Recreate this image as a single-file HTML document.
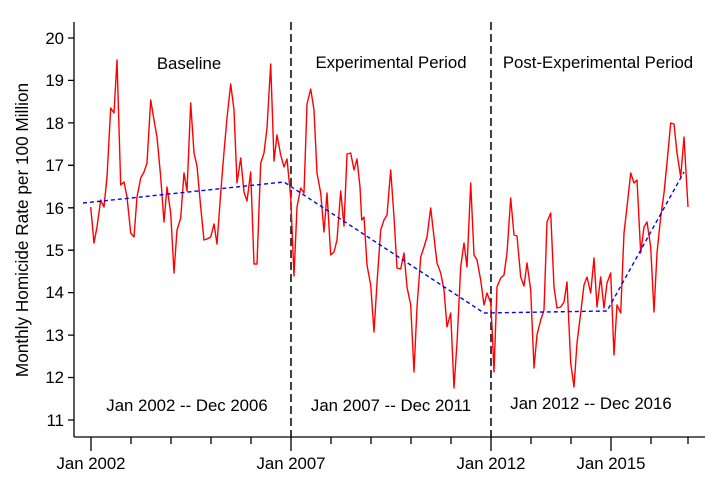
<!DOCTYPE html>
<html><head><meta charset="utf-8"><style>html,body{margin:0;padding:0;background:#fff}svg{display:block}</style></head>
<body>
<svg width="720" height="486" viewBox="0 0 720 486" xmlns="http://www.w3.org/2000/svg" font-family="Liberation Sans, sans-serif">
<rect width="720" height="486" fill="#fff"/>
<g stroke="#000" stroke-width="1.3" fill="none">
<line x1="74" y1="22" x2="74" y2="437"/>
<line x1="74" y1="437" x2="705" y2="437"/>
<path d="M68 38H74M68 80.4H74M68 122.9H74M68 165.3H74M68 207.8H74M68 250.2H74M68 292.6H74M68 335.1H74M68 377.5H74M68 420H74"/>
<path d="M91 437V451M291 437V451M491 437V451M611 437V451M131 437V444M171 437V444M211 437V444M251 437V444M331 437V444M371 437V444M411 437V444M451 437V444M531 437V444M571 437V444M651 437V444M688 437V444"/>
<line x1="291" y1="22" x2="291" y2="437" stroke-dasharray="8,4" stroke-width="1.5"/>
<line x1="491" y1="22" x2="491" y2="437" stroke-dasharray="8,4" stroke-width="1.5"/>
</g>
<g font-size="16.8" fill="#000" text-anchor="end">
<text x="64" y="44">20</text><text x="64" y="86">19</text><text x="64" y="129">18</text><text x="64" y="171">17</text><text x="64" y="214">16</text><text x="64" y="256">15</text><text x="64" y="298">14</text><text x="64" y="341">13</text><text x="64" y="383">12</text><text x="64" y="426">11</text>
</g>
<g font-size="16.8" fill="#000" text-anchor="middle">
<text x="91" y="469">Jan 2002</text><text x="291" y="469">Jan 2007</text><text x="491" y="469">Jan 2012</text><text x="611" y="469">Jan 2015</text>
<text x="189" y="69">Baseline</text>
<text x="391" y="68">Experimental Period</text>
<text x="598" y="68">Post-Experimental Period</text>
<text x="187" y="411">Jan 2002 -- Dec 2006</text>
<text x="391" y="411">Jan 2007 -- Dec 2011</text>
<text x="591" y="409">Jan 2012 -- Dec 2016</text>
<text transform="translate(28,230) rotate(-90)" font-size="17.2">Monthly Homicide Rate per 100 Million</text>
</g>
<polyline fill="none" stroke="#ff0000" stroke-width="1.4" stroke-linejoin="round" points="90.7,207 94,243 97,227 100.7,200 104,207 107,177 110.7,108 114,113 117,60 120.7,185 124,182 127,197 130.7,233 134,237 137,197 140.7,178 144,172 147,163 150.7,100 154,120 157,137 160.7,177 164,222 167,187 170.7,213 174,273 177,230 180.7,218 184,173 187,191 190.7,103 194,153 197,166 200.7,207 204,240 207,239 210.7,237 214,224 217,244 220.7,193 224,152 227,118 230.7,84 234,110 237,183 240.7,158 244,192 247,201 250.7,172 254,264 257,264 260.7,163 264,153 267,128 270.7,64 274,161 277,135 280.7,155 284,167 287,159 290.7,197 294,276 297,207 300.7,188 304,193 307,104 310.7,89 314,110 317,173 320.7,193 324,232 327,193 330.7,255 334,252 337,240 340.7,191 344,226 347,154 350.7,153 354,170 357,159 360,187 361.7,220 364,217 367,265 370.7,285 374,332 377,283 380.7,230 384,220 387,215 390.7,170 394,217 397,268 400.7,269 404,253 407,287 410.7,305 414,372 417,307 420.7,257 424,247 427,237 430.7,208 434,237 437,263 440.7,273 444,290 447,327 450.7,313 454,388 457,343 460.7,267 464,243 467,267 470.7,183 474,255 477,260 480.7,280 484,305 487,293 490.7,303 492.3,333 494,372 497,287 500.7,278 504,275 507,253 510.7,198 514,235 517,236 520.7,277 524,286 527,263 530.7,290 534,368 537,335 540.7,320 544,310 547,222 550.7,213 554,287 557,308 560.7,307 564,302 567,282 570.7,363 574,387 577,343 580.7,313 584,285 587,277 590.7,293 594,258 597,307 600.7,277 604,308 607,283 610.7,273 614,355 617,305 620.7,313 624,233 627,207 630.7,173 634,183 637,180 640.7,253 644,227 647,222 650.7,247 654,312 657,253 660.7,217 664,193 667,163 670.7,123 674,124 677,153 680.7,177 684,137 688,207"/>
<polyline fill="none" stroke="#0000ff" stroke-width="1.4" stroke-dasharray="4,3" points="83,203 284,182 484,313 607,311 684,172"/>
</svg>
</body></html>
